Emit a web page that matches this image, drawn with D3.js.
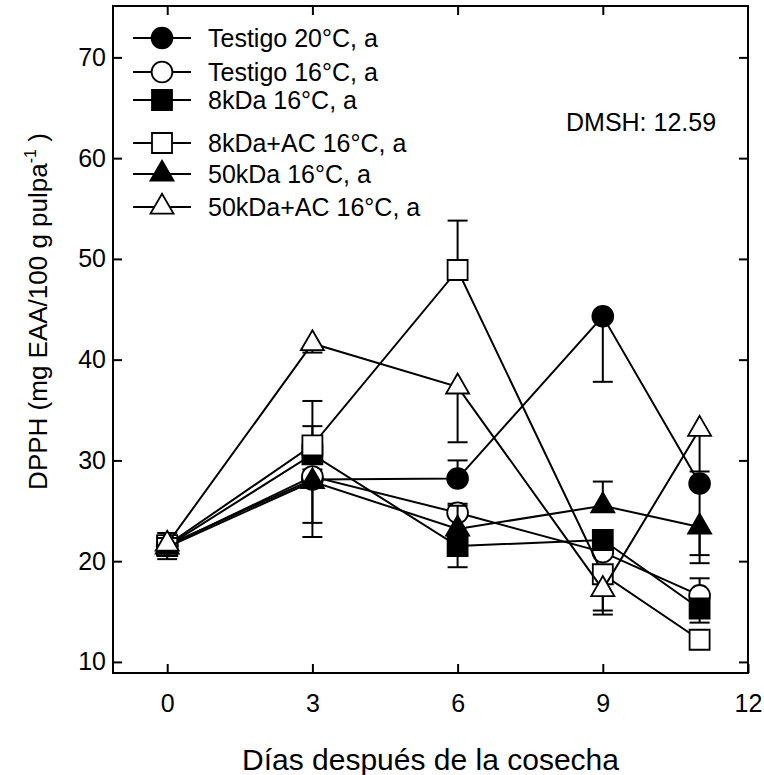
<!DOCTYPE html>
<html>
<head>
<meta charset="utf-8">
<script src="https://cdn.jsdelivr.net/npm/d3@7"></script>
<style>
  body { margin: 0; background: #fff; }
  text { font-family: "Liberation Sans", Arial, sans-serif; fill: #000; }
</style>
</head>
<body>
<div id="chart"></div>
<script>
const WIDTH = 764;
const HEIGHT = 775;
const LEFT = 113, RIGHT = 748, TOP = 6, BOTTOM = 673;
const TICK_LEN = 9;

// data
const days = [0, 3, 6, 9, 11];
const xTicks = [0, 3, 6, 9, 12];
const yTicks = [10, 20, 30, 40, 50, 60, 70];

const names = ["Testigo 20°C, a", "Testigo 16°C, a", "8kDa 16°C, a",
               "8kDa+AC 16°C, a", "50kDa 16°C, a", "50kDa+AC 16°C, a"];
const testigo20 = [21.6, 28.1, 28.2, 44.3, 27.7];
const testigo16 = [21.5, 28.4, 24.8, 20.9, 16.6];
const kda8      = [21.5, 30.6, 21.5, 22.1, 15.3];
const kda8ac    = [21.6, 31.5, 48.9, 18.7, 12.2];
const kda50     = [21.4, 27.9, 23.2, 25.5, 23.4];
const kda50ac   = [21.7, 41.6, 37.3, 17.2, 33.1];
// signed error bars (drawn in one direction only)
const errT20   = [1.2, 1.0, 1.8, -6.5, -7.9];
const errT16   = [-0.8, -4.6, 0.9, 0, 1.7];
const err8     = [0, 2.8, -2.1, 0, -1.4];
const err8ac   = [0, 4.4, 4.9, -3.6, 0];
const err50    = [-1.2, -5.5, 2.3, 2.4, -2.8];
const err50ac  = [0.6, -0.9, -5.5, -2.5, -4.2];
const DMSH = "DMSH: 12.59";

const series = [
  { name: names[0], values: testigo20, err: errT20, shape: "circle", fill: "#000" },
  { name: names[1], values: testigo16, err: errT16, shape: "circle", fill: "#fff" },
  { name: names[2], values: kda8, err: err8, shape: "square", fill: "#000" },
  { name: names[3], values: kda8ac, err: err8ac, shape: "square", fill: "#fff" },
  { name: names[4], values: kda50, err: err50, shape: "triangle", fill: "#000" },
  { name: names[5], values: kda50ac, err: err50ac, shape: "triangle", fill: "#fff" }
];

const shapes = {
  circle: d3.symbol(d3.symbolCircle, 340)(),
  square: d3.symbol(d3.symbolSquare, 400)(),
  triangle: d3.symbol(d3.symbolTriangle, 230)()
};

const svg = d3.select("#chart").append("svg")
  .attr("width", WIDTH).attr("height", HEIGHT);

const x = d3.scaleLinear().domain([-1.12, 12]).range([LEFT, RIGHT]);
const y = d3.scaleLinear().domain([8.9, 75.1]).range([BOTTOM, TOP]);

// frame
svg.append("rect")
  .attr("x", LEFT).attr("y", TOP)
  .attr("width", RIGHT - LEFT).attr("height", BOTTOM - TOP)
  .attr("fill", "none").attr("stroke", "#000").attr("stroke-width", 2);

const styleAxis = g => {
  g.select(".domain").remove();
  g.selectAll(".tick line").attr("stroke", "#000").attr("stroke-width", 2);
  g.selectAll(".tick text").style("font-size", "25px");
};

svg.append("g").attr("transform", `translate(0,${BOTTOM})`)
  .call(d3.axisBottom(x).tickValues(xTicks).tickSize(-TICK_LEN).tickPadding(21))
  .call(styleAxis);
svg.append("g").attr("transform", `translate(0,${TOP})`)
  .call(d3.axisTop(x).tickValues(xTicks.slice(0, 4)).tickSize(-TICK_LEN).tickFormat(""))
  .call(styleAxis);
svg.append("g").attr("transform", `translate(${LEFT},0)`)
  .call(d3.axisLeft(y).tickValues(yTicks).tickSize(-TICK_LEN).tickPadding(7))
  .call(styleAxis);
svg.append("g").attr("transform", `translate(${RIGHT},0)`)
  .call(d3.axisRight(y).tickValues(yTicks).tickSize(-TICK_LEN).tickFormat(""))
  .call(styleAxis);

// axis titles
svg.append("text")
  .attr("x", (LEFT + RIGHT) / 2).attr("y", 770)
  .attr("text-anchor", "middle")
  .style("font-size", "30px")
  .text("Días después de la cosecha");

const yTitle = svg.append("text")
  .attr("transform", `translate(47,${(TOP + BOTTOM) / 2 - 28}) rotate(-90)`)
  .attr("text-anchor", "middle")
  .style("font-size", "26px");
yTitle.append("tspan").text("DPPH (mg EAA/100 g pulpa");
yTitle.append("tspan").attr("dy", -11).style("font-size", "16px").text("-1");
yTitle.append("tspan").attr("dy", 11).text(" )");

svg.append("text")
  .attr("x", 566).attr("y", 131)
  .style("font-size", "25px")
  .text(DMSH);

// series: line, error bars, symbols
const line = d3.line().x((d, i) => x(days[i])).y(d => y(d));

series.forEach(s => {
  const g = svg.append("g");
  g.append("path")
    .attr("d", line(s.values))
    .attr("fill", "none").attr("stroke", "#000").attr("stroke-width", 2);

  s.values.forEach((v, i) => {
    const e = s.err[i];
    if (!e) return;
    const cx = x(days[i]);
    g.append("line")
      .attr("x1", cx).attr("x2", cx)
      .attr("y1", y(v)).attr("y2", y(v + e))
      .attr("stroke", "#000").attr("stroke-width", 2);
    g.append("line")
      .attr("x1", cx - 10).attr("x2", cx + 10)
      .attr("y1", y(v + e)).attr("y2", y(v + e))
      .attr("stroke", "#000").attr("stroke-width", 2);
  });

  g.selectAll("path.sym")
    .data(s.values)
    .join("path")
    .attr("class", "sym")
    .attr("d", shapes[s.shape])
    .attr("transform", (d, i) => `translate(${x(days[i])},${y(d)})`)
    .attr("fill", s.fill).attr("stroke", "#000").attr("stroke-width", 1.8);
});

// legend
const legendRows = [38, 72, 100, 143, 174, 207];
const legend = svg.append("g");
series.forEach((s, i) => {
  const ly = legendRows[i];
  legend.append("line")
    .attr("x1", 133).attr("x2", 191).attr("y1", ly).attr("y2", ly)
    .attr("stroke", "#000").attr("stroke-width", 2);
  legend.append("path")
    .attr("d", shapes[s.shape])
    .attr("transform", `translate(162,${ly})`)
    .attr("fill", s.fill).attr("stroke", "#000").attr("stroke-width", 1.8);
  legend.append("text")
    .attr("x", 208).attr("y", ly + 9)
    .style("font-size", "25px")
    .text(s.name);
});
</script>
</body>
</html>
